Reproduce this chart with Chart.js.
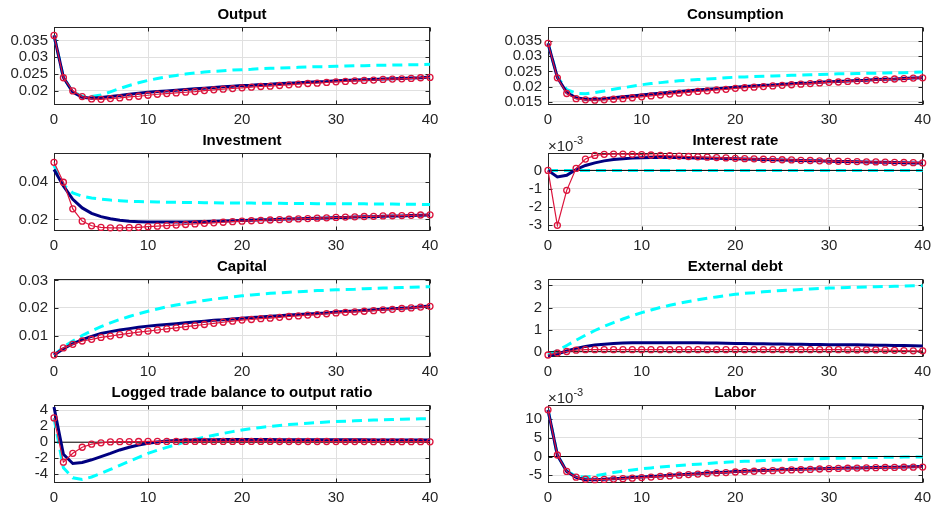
<!DOCTYPE html>
<html>
<head>
<meta charset="utf-8">
<script src="https://cdn.jsdelivr.net/npm/chart.js@4.4.1/dist/chart.umd.min.js"></script>
<style>
  body { margin: 0; background: #fff; }
  #wrap { position: relative; width: 933px; height: 511px; overflow: hidden; }
  canvas { position: absolute; }
</style>
</head>
<body>
<div id="wrap">
  <canvas id="output" width="445" height="127" style="left:0;top:0"></canvas>
  <canvas id="consumption" width="443" height="127" style="left:494px;top:0"></canvas>
  <canvas id="investment" width="445" height="127" style="left:0;top:126px"></canvas>
  <canvas id="interest" width="443" height="127" style="left:494px;top:126px"></canvas>
  <canvas id="capital" width="445" height="127" style="left:0;top:252px"></canvas>
  <canvas id="debt" width="443" height="127" style="left:494px;top:252px"></canvas>
  <canvas id="trade" width="445" height="127" style="left:0;top:378px"></canvas>
  <canvas id="labor" width="443" height="127" style="left:494px;top:378px"></canvas>
</div>
<script>
// Horizon (quarters after the shock)
const periods = Array.from({ length: 41 }, (_, i) => i);
const xTicks = [0, 10, 20, 30, 40];

// Output
const outputCyan = [0.0365, 0.0240, 0.0197, 0.0184, 0.0183, 0.0188, 0.0197, 0.0207, 0.0216, 0.0224,
  0.0231, 0.0237, 0.0242, 0.0246, 0.0250, 0.0253, 0.0256, 0.0258, 0.0260, 0.0262,
  0.0263, 0.0264, 0.0266, 0.0267, 0.0268, 0.0269, 0.0270, 0.0271, 0.0272, 0.0272,
  0.0273, 0.0274, 0.0275, 0.0275, 0.0276, 0.0276, 0.0277, 0.0277, 0.0278, 0.0278, 0.0279];
const outputNavy = [0.0365, 0.0240, 0.0196, 0.0181, 0.0178, 0.0180, 0.0183, 0.0186, 0.0190, 0.0193,
  0.0196, 0.0198, 0.0200, 0.0202, 0.0204, 0.0206, 0.0208, 0.0210, 0.0212, 0.0214,
  0.0216, 0.0217, 0.0219, 0.0220, 0.0222, 0.0223, 0.0224, 0.0226, 0.0227, 0.0228,
  0.0230, 0.0231, 0.0232, 0.0233, 0.0234, 0.0235, 0.0236, 0.0237, 0.0238, 0.0239, 0.0241];
const outputRed = [0.0365, 0.0239, 0.0200, 0.0183, 0.0176, 0.0175, 0.0177, 0.0179, 0.0182, 0.0184,
  0.0187, 0.0190, 0.0192, 0.0194, 0.0196, 0.0198, 0.0201, 0.0203, 0.0205, 0.0207,
  0.0209, 0.0211, 0.0213, 0.0214, 0.0216, 0.0218, 0.0220, 0.0222, 0.0223, 0.0225,
  0.0227, 0.0228, 0.0230, 0.0231, 0.0232, 0.0234, 0.0235, 0.0236, 0.0237, 0.0239, 0.0240];
const outputTicks = [0.02, 0.025, 0.03, 0.035];

// Consumption
const consumptionCyan = [0.0343, 0.0232, 0.0190, 0.0178, 0.0176, 0.0180, 0.0185, 0.0191, 0.0196, 0.0201,
  0.0206, 0.0210, 0.0213, 0.0216, 0.0219, 0.0221, 0.0223, 0.0225, 0.0227, 0.0229,
  0.0231, 0.0232, 0.0233, 0.0234, 0.0235, 0.0236, 0.0237, 0.0238, 0.0239, 0.0240,
  0.0241, 0.0242, 0.0242, 0.0243, 0.0244, 0.0244, 0.0245, 0.0246, 0.0246, 0.0247, 0.0248];
const consumptionNavy = [0.0343, 0.0230, 0.0180, 0.0163, 0.0158, 0.0158, 0.0160, 0.0163, 0.0166, 0.0169,
  0.0172, 0.0175, 0.0178, 0.0181, 0.0184, 0.0186, 0.0189, 0.0191, 0.0193, 0.0195,
  0.0198, 0.0200, 0.0202, 0.0204, 0.0205, 0.0207, 0.0209, 0.0211, 0.0212, 0.0214,
  0.0216, 0.0217, 0.0218, 0.0220, 0.0221, 0.0223, 0.0224, 0.0225, 0.0227, 0.0228, 0.0229];
const consumptionRed = [0.0343, 0.0229, 0.0177, 0.0160, 0.0156, 0.0155, 0.0156, 0.0158, 0.0160, 0.0163,
  0.0166, 0.0169, 0.0172, 0.0175, 0.0178, 0.0181, 0.0184, 0.0186, 0.0189, 0.0191,
  0.0194, 0.0196, 0.0198, 0.0200, 0.0202, 0.0204, 0.0206, 0.0208, 0.0210, 0.0212,
  0.0214, 0.0215, 0.0217, 0.0219, 0.0220, 0.0222, 0.0223, 0.0225, 0.0226, 0.0228, 0.0229];
const consumptionTicks = [0.015, 0.02, 0.025, 0.03, 0.035];

// Investment
const investmentCyan = [0.0490, 0.0385, 0.0343, 0.0325, 0.0315, 0.0309, 0.0304, 0.0301, 0.0298, 0.0296,
  0.0295, 0.0294, 0.0293, 0.0292, 0.0291, 0.0291, 0.0290, 0.0290, 0.0289, 0.0289,
  0.0288, 0.0288, 0.0287, 0.0287, 0.0287, 0.0286, 0.0286, 0.0286, 0.0285, 0.0285,
  0.0285, 0.0284, 0.0284, 0.0284, 0.0283, 0.0283, 0.0283, 0.0282, 0.0282, 0.0281, 0.0280];
const investmentNavy = [0.0468, 0.0380, 0.0308, 0.0262, 0.0233, 0.0215, 0.0204, 0.0196, 0.0191, 0.0188,
  0.0186, 0.0186, 0.0186, 0.0186, 0.0187, 0.0188, 0.0189, 0.0190, 0.0192, 0.0193,
  0.0195, 0.0196, 0.0198, 0.0199, 0.0201, 0.0202, 0.0204, 0.0205, 0.0207, 0.0208,
  0.0210, 0.0211, 0.0213, 0.0214, 0.0215, 0.0217, 0.0218, 0.0219, 0.0221, 0.0222, 0.0224];
const investmentRed = [0.0507, 0.0400, 0.0257, 0.0191, 0.0166, 0.0157, 0.0155, 0.0155, 0.0156, 0.0158,
  0.0161, 0.0164, 0.0167, 0.0170, 0.0173, 0.0176, 0.0179, 0.0182, 0.0185, 0.0188,
  0.0191, 0.0193, 0.0195, 0.0197, 0.0199, 0.0201, 0.0203, 0.0205, 0.0207, 0.0209,
  0.0211, 0.0213, 0.0214, 0.0216, 0.0217, 0.0219, 0.0220, 0.0221, 0.0222, 0.0224, 0.0225];
const investmentTicks = [0.02, 0.04];

// Interest rate (x 10^-3)
const interestCyan = [0, 0, 0, 0, 0, 0, 0, 0, 0, 0,
  0, 0, 0, 0, 0, 0, 0, 0, 0, 0,
  0, 0, 0, 0, 0, 0, 0, 0, 0, 0,
  0, 0, 0, 0, 0, 0, 0, 0, 0, 0, 0];
const interestNavy = [0, -0.36, -0.27, 0.05, 0.27, 0.41, 0.52, 0.59, 0.64, 0.67,
  0.69, 0.70, 0.70, 0.70, 0.70, 0.69, 0.68, 0.67, 0.66, 0.65,
  0.64, 0.62, 0.61, 0.60, 0.58, 0.57, 0.56, 0.54, 0.53, 0.52,
  0.50, 0.49, 0.48, 0.47, 0.46, 0.45, 0.44, 0.43, 0.42, 0.41, 0.40];
const interestRed = [0, -3.00, -1.09, 0.11, 0.62, 0.82, 0.88, 0.89, 0.89, 0.88,
  0.86, 0.84, 0.82, 0.80, 0.78, 0.76, 0.74, 0.72, 0.70, 0.68,
  0.66, 0.64, 0.63, 0.61, 0.60, 0.58, 0.57, 0.55, 0.54, 0.52,
  0.51, 0.50, 0.49, 0.48, 0.47, 0.46, 0.45, 0.44, 0.43, 0.42, 0.41];
const interestTicks = [-3, -2, -1, 0];

// Capital
const capitalCyan = [0.0029, 0.0058, 0.0080, 0.0100, 0.0117, 0.0132, 0.0146, 0.0158, 0.0169, 0.0179,
  0.0188, 0.0196, 0.0204, 0.0211, 0.0217, 0.0222, 0.0227, 0.0232, 0.0236, 0.0240,
  0.0244, 0.0247, 0.0250, 0.0253, 0.0255, 0.0257, 0.0259, 0.0261, 0.0263, 0.0264,
  0.0266, 0.0267, 0.0268, 0.0270, 0.0271, 0.0272, 0.0273, 0.0274, 0.0275, 0.0276, 0.0277];
const capitalNavy = [0.0029, 0.0052, 0.0070, 0.0085, 0.0097, 0.0107, 0.0114, 0.0120, 0.0125, 0.0130,
  0.0134, 0.0137, 0.0140, 0.0143, 0.0146, 0.0149, 0.0152, 0.0155, 0.0157, 0.0160,
  0.0163, 0.0165, 0.0167, 0.0170, 0.0172, 0.0174, 0.0176, 0.0178, 0.0180, 0.0182,
  0.0185, 0.0187, 0.0189, 0.0191, 0.0193, 0.0195, 0.0197, 0.0199, 0.0201, 0.0204, 0.0207];
const capitalRed = [0.0029, 0.0055, 0.0068, 0.0080, 0.0086, 0.0093, 0.0098, 0.0103, 0.0108, 0.0112,
  0.0116, 0.0120, 0.0124, 0.0128, 0.0132, 0.0136, 0.0140, 0.0144, 0.0148, 0.0152,
  0.0156, 0.0158, 0.0161, 0.0163, 0.0166, 0.0169, 0.0171, 0.0174, 0.0176, 0.0179,
  0.0182, 0.0184, 0.0186, 0.0188, 0.0190, 0.0193, 0.0195, 0.0198, 0.0200, 0.0203, 0.0206];
const capitalTicks = [0.01, 0.02, 0.03];

// External debt
const debtCyan = [-0.12, 0.05, 0.28, 0.52, 0.75, 0.96, 1.15, 1.32, 1.48, 1.63,
  1.77, 1.89, 2.00, 2.10, 2.19, 2.27, 2.35, 2.42, 2.48, 2.54,
  2.60, 2.64, 2.67, 2.71, 2.74, 2.77, 2.79, 2.82, 2.84, 2.86,
  2.88, 2.89, 2.91, 2.92, 2.93, 2.94, 2.95, 2.96, 2.97, 2.98, 2.99];
const debtNavy = [-0.20, -0.10, 0.03, 0.15, 0.24, 0.30, 0.34, 0.37, 0.39, 0.40,
  0.40, 0.41, 0.41, 0.41, 0.40, 0.40, 0.40, 0.39, 0.39, 0.38,
  0.37, 0.37, 0.36, 0.36, 0.35, 0.35, 0.34, 0.34, 0.33, 0.33,
  0.32, 0.32, 0.31, 0.31, 0.30, 0.29, 0.29, 0.28, 0.28, 0.27, 0.26];
const debtRed = [-0.15, -0.06, 0.01, 0.07, 0.09, 0.09, 0.09, 0.09, 0.09, 0.09,
  0.09, 0.09, 0.09, 0.09, 0.09, 0.09, 0.09, 0.09, 0.09, 0.09,
  0.09, 0.09, 0.09, 0.09, 0.09, 0.09, 0.09, 0.09, 0.09, 0.09,
  0.09, 0.09, 0.08, 0.08, 0.08, 0.08, 0.07, 0.06, 0.05, 0.04, 0.04];
const debtTicks = [0, 1, 2, 3];

// Logged trade balance to output ratio
const tradeCyan = [3.0, -3.2, -4.45, -4.65, -4.35, -3.9, -3.4, -2.9, -2.4, -1.9,
  -1.4, -1.0, -0.65, -0.3, 0.05, 0.35, 0.62, 0.87, 1.1, 1.32,
  1.52, 1.7, 1.85, 1.98, 2.1, 2.2, 2.29, 2.37, 2.45, 2.52,
  2.58, 2.63, 2.68, 2.72, 2.76, 2.8, 2.84, 2.87, 2.9, 2.93, 2.95];
const tradeNavy = [4.4, -1.5, -2.66, -2.53, -2.2, -1.8, -1.4, -0.97, -0.63, -0.34,
  -0.13, 0.03, 0.14, 0.21, 0.26, 0.29, 0.31, 0.32, 0.33, 0.33,
  0.33, 0.33, 0.33, 0.33, 0.32, 0.32, 0.32, 0.32, 0.31, 0.31,
  0.31, 0.30, 0.30, 0.30, 0.29, 0.29, 0.29, 0.28, 0.28, 0.28, 0.27];
const tradeRed = [3.04, -2.5, -1.39, -0.63, -0.25, -0.08, 0.03, 0.06, 0.08, 0.09,
  0.10, 0.10, 0.10, 0.10, 0.10, 0.10, 0.10, 0.10, 0.10, 0.10,
  0.10, 0.10, 0.10, 0.10, 0.09, 0.09, 0.09, 0.09, 0.09, 0.09,
  0.08, 0.08, 0.08, 0.08, 0.07, 0.07, 0.07, 0.06, 0.06, 0.06, 0.05];
const tradeTicks = [-4, -2, 0, 2, 4];

// Labor (x 10^-3)
const laborCyan = [12.5, 0.4, -3.9, -5.3, -5.5, -5.2, -4.75, -4.3, -3.95, -3.6,
  -3.3, -3.05, -2.8, -2.6, -2.4, -2.2, -2.05, -1.9, -1.7, -1.55,
  -1.4, -1.3, -1.2, -1.1, -1.0, -0.9, -0.82, -0.74, -0.66, -0.58,
  -0.5, -0.45, -0.4, -0.35, -0.3, -0.26, -0.22, -0.19, -0.16, -0.13, -0.1];
const laborNavy = [12.5, 0.35, -4.0, -5.6, -6.2, -6.25, -6.1, -5.95, -5.8, -5.65,
  -5.5, -5.35, -5.2, -5.05, -4.9, -4.75, -4.6, -4.45, -4.3, -4.2,
  -4.05, -3.95, -3.85, -3.75, -3.65, -3.55, -3.5, -3.4, -3.35, -3.25,
  -3.2, -3.15, -3.1, -3.05, -3.0, -2.95, -2.9, -2.85, -2.8, -2.75, -2.7];
const laborRed = [12.5, 0.4, -4.0, -5.55, -6.1, -6.2, -6.15, -6.05, -5.95, -5.8,
  -5.65, -5.5, -5.35, -5.2, -5.0, -4.85, -4.7, -4.55, -4.4, -4.3,
  -4.15, -4.05, -3.95, -3.85, -3.8, -3.7, -3.6, -3.55, -3.45, -3.35,
  -3.27, -3.2, -3.15, -3.1, -3.05, -3.0, -2.95, -2.92, -2.88, -2.85, -2.82];
const laborTicks = [-5, 0, 5, 10];

// zero reference line
const zeroX = [0, 40];
const zeroY = [0, 0];

Chart.defaults.font.family = "'Liberation Sans', Arial, Helvetica, sans-serif";
Chart.defaults.font.size = 15;
Chart.defaults.color = "#262626";

// MATLAB-like box with inward ticks, plus the x10^n exponent label
const boxPlugin = {
  id: "box",
  beforeDatasetsDraw(chart, args, opts) {
    const { ctx, chartArea: a, scales } = chart;
    const l = Math.round(a.left) + 0.5;
    const r = Math.round(a.right) - 0.5;
    const t = Math.round(a.top) + 0.5;
    const b = Math.round(a.bottom) - 0.5;
    ctx.save();
    ctx.strokeStyle = "#262626";
    ctx.lineWidth = 1;
    ctx.strokeRect(l, t, r - l, b - t);
    ctx.beginPath();
    scales.y.ticks.forEach((tk) => {
      const y = Math.round(scales.y.getPixelForValue(tk.value)) + 0.5;
      ctx.moveTo(l, y);
      ctx.lineTo(l + 4, y);
      ctx.moveTo(r, y);
      ctx.lineTo(r - 4, y);
    });
    scales.x.ticks.forEach((tk) => {
      const x = Math.round(scales.x.getPixelForValue(tk.value)) + 0.5;
      ctx.moveTo(x, b);
      ctx.lineTo(x, b - 4);
      ctx.moveTo(x, t);
      ctx.lineTo(x, t + 4);
    });
    ctx.stroke();
    if (opts.exponent) {
      ctx.fillStyle = "#262626";
      ctx.textBaseline = "alphabetic";
      ctx.textAlign = "left";
      ctx.font = "15px 'Liberation Sans', Arial, sans-serif";
      ctx.fillText("×10", a.left, a.top - 2);
      const w = ctx.measureText("×10").width;
      ctx.font = "11px 'Liberation Sans', Arial, sans-serif";
      ctx.fillText(opts.exponent, a.left + w, a.top - 9);
    }
    ctx.restore();
  },
};

function toPoints(values) {
  return values.map((v, i) => ({ x: periods[i], y: v }));
}

function drawPanel(id, title, cyan, navy, red, yMin, yMax, yTicks, extra = {}) {
  const rightPad = id === "output" || id === "investment" || id === "capital" || id === "trade" ? 15 : 11;
  const datasets = [
    {
      data: toPoints(cyan),
      borderColor: "#00ffff",
      borderWidth: 3,
      borderDash: [10, 6],
      pointRadius: 0,
      order: 3,
    },
    {
      data: toPoints(navy),
      borderColor: "#000080",
      borderWidth: 3,
      pointRadius: 0,
      order: 1,
    },
    {
      data: toPoints(red),
      borderColor: "#dc143c",
      borderWidth: 1.2,
      pointRadius: 3,
      pointStyle: "circle",
      pointBorderColor: "#dc143c",
      pointBackgroundColor: "rgba(0,0,0,0)",
      pointBorderWidth: 1.3,
      order: 0,
    },
  ];
  if (extra.zeroLine) {
    datasets.push({
      data: zeroX.map((x, i) => ({ x: x, y: zeroY[i] })),
      borderColor: "#000000",
      borderWidth: 1,
      pointRadius: 0,
      order: 2,
    });
  }
  datasets.forEach((d) => {
    d.tension = 0;
    d.clip = false;
    d.fill = false;
  });

  return new Chart(document.getElementById(id), {
    type: "line",
    data: { datasets: datasets },
    options: {
      responsive: false,
      animation: false,
      events: [],
      layout: { padding: { left: 0, right: rightPad, top: 0, bottom: 0 } },
      plugins: {
        legend: { display: false },
        tooltip: { enabled: false },
        title: {
          display: true,
          text: title,
          fullSize: false,
          color: "#000000",
          font: { size: 15, weight: "bold", lineHeight: 1.2 },
          padding: { top: 6, bottom: 3 },
        },
        box: { exponent: extra.exponent || null },
      },
      scales: {
        x: {
          type: "linear",
          min: 0,
          max: 40,
          afterBuildTicks: (scale) => {
            scale.ticks = xTicks.map((v) => ({ value: v }));
          },
          afterFit: (scale) => {
            scale.height = 22;
          },
          ticks: {
            padding: 6,
            maxRotation: 0,
            autoSkip: false,
            callback: (v) => String(v),
          },
          grid: { color: "#e0e0e0", drawTicks: false },
          border: { display: false },
        },
        y: {
          type: "linear",
          min: yMin,
          max: yMax,
          afterBuildTicks: (scale) => {
            scale.ticks = yTicks.map((v) => ({ value: v }));
          },
          afterFit: (scale) => {
            scale.width = 54;
          },
          ticks: {
            padding: 6,
            autoSkip: false,
            autoSkipPadding: 0,
            font: { lineHeight: 1 },
            callback: (v) => String(v),
          },
          grid: { color: "#e0e0e0", drawTicks: false },
          border: { display: false },
        },
      },
    },
    plugins: [boxPlugin],
  });
}

drawPanel("output", "Output", outputCyan, outputNavy, outputRed, 0.0158, 0.039, outputTicks);
drawPanel("consumption", "Consumption", consumptionCyan, consumptionNavy, consumptionRed, 0.0139, 0.0397, consumptionTicks);
drawPanel("investment", "Investment", investmentCyan, investmentNavy, investmentRed, 0.0138, 0.0557, investmentTicks);
drawPanel("interest", "Interest rate", interestCyan, interestNavy, interestRed, -3.31, 0.95, interestTicks, { zeroLine: true, exponent: "-3" });
drawPanel("capital", "Capital", capitalCyan, capitalNavy, capitalRed, 0.0022, 0.0305, capitalTicks);
drawPanel("debt", "External debt", debtCyan, debtNavy, debtRed, -0.24, 3.29, debtTicks, { zeroLine: true });
drawPanel("trade", "Logged trade balance to output ratio", tradeCyan, tradeNavy, tradeRed, -5.1, 4.65, tradeTicks, { zeroLine: true });
drawPanel("labor", "Labor", laborCyan, laborNavy, laborRed, -7.1, 13.8, laborTicks, { zeroLine: true, exponent: "-3" });
</script>
</body>
</html>
